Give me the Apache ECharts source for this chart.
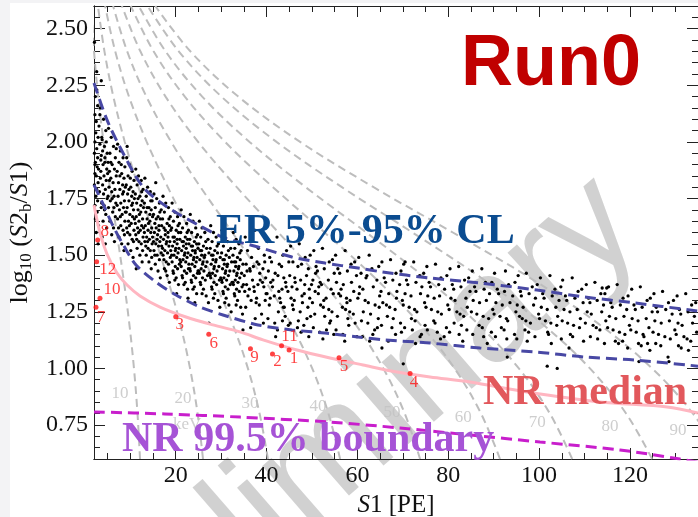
<!DOCTYPE html>
<html>
<head>
<meta charset="utf-8">
<script src="https://cdn.jsdelivr.net/npm/echarts@6/dist/echarts.min.js"></script>
<style>
html,body{margin:0;padding:0;background:#fff;}
#chart{width:698px;height:517px;}
</style>
</head>
<body>
<div id="chart"></div>
<script>
// ---- ER calibration events: [S1 (PE), log10(S2b/S1)] ----
const erEvents = [
[2.1,2.44],[2.6,2.31],[2.3,2.2],[2.8,2.16],[2.2,2.12],[2.5,2.09],[3.1,2.07],[2.4,2.04],[2.9,2.02],[2.2,2.0],[3.3,1.99],[2.6,1.97],[2.1,1.95],[2.8,1.93],[3.5,1.92],[2.3,1.91],[2.7,1.89],[3.0,1.88],[2.2,1.86],[2.5,1.85],[3.4,1.84],[2.9,1.82],[2.1,1.81],[2.6,1.79],[3.2,1.78],[2.4,1.76],[2.8,1.74],[2.2,1.72],[3.6,1.71],[2.7,1.69],[2.3,1.66],[3.0,1.63],[2.5,1.6],[2.9,1.55],[2.2,1.9],[3.7,2.02],[3.3,2.12],[2.6,2.23],[3.9,1.96],
[3.4,2.15],[4.1,2.1],[4.6,2.05],[3.8,2.01],[4.3,1.98],[4.9,1.95],[3.6,1.94],[4.4,1.91],[4.0,1.9],[4.8,1.88],[3.5,1.87],[4.2,1.85],[4.7,1.83],[3.9,1.81],[4.5,1.79],[4.1,1.77],[4.9,1.75],[3.7,1.73],[4.3,1.7],[4.6,1.68],[4.0,1.65],[4.8,1.62],[3.8,1.58],[4.4,1.93],[4.7,2.0],[5.0,1.86],[4.2,1.72],[3.6,2.27],[4.5,1.55],
[5.2,2.06],[5.8,2.02],[6.3,1.98],[5.5,1.95],[6.7,1.93],[5.1,1.91],[6.0,1.9],[6.5,1.88],[5.4,1.87],[6.9,1.85],[5.7,1.84],[6.2,1.82],[5.3,1.8],[6.6,1.79],[5.9,1.78],[6.4,1.76],[5.6,1.74],[6.8,1.73],[5.2,1.71],[6.1,1.69],[6.7,1.67],[5.5,1.65],[6.3,1.62],[5.9,1.59],[6.5,1.56],[5.4,1.83],[6.0,1.75],[6.9,1.97],[5.7,1.91],[6.4,1.71],[5.1,1.76],
[7.2,1.99],[7.8,1.96],[8.4,1.93],[7.5,1.91],[8.8,1.89],[7.1,1.87],[8.1,1.86],[8.6,1.84],[7.4,1.82],[8.9,1.8],[7.7,1.79],[8.3,1.77],[7.3,1.76],[8.7,1.74],[7.9,1.73],[8.5,1.71],[7.6,1.7],[8.2,1.68],[7.2,1.66],[8.8,1.65],[7.9,1.63],[8.4,1.61],[7.5,1.58],[8.1,1.55],[8.6,1.52],[7.7,1.85],[8.3,1.81],[7.1,1.72],[8.9,1.69],[7.4,1.62],[8.0,1.9],[8.5,1.78],[7.8,1.67],[8.7,1.59],
[9.2,1.93],[9.8,1.9],[10.4,1.87],[9.5,1.85],[10.8,1.83],[9.1,1.81],[10.1,1.8],[10.6,1.78],[9.4,1.77],[10.9,1.75],[9.7,1.74],[10.3,1.72],[9.3,1.71],[10.7,1.7],[9.9,1.68],[10.5,1.67],[9.6,1.65],[10.2,1.64],[9.2,1.62],[10.8,1.61],[9.9,1.59],[10.4,1.57],[9.5,1.55],[10.1,1.52],[10.6,1.49],[9.7,1.79],[10.3,1.76],[9.1,1.69],[10.9,1.66],[9.4,1.6],[10.0,1.84],[10.5,1.73],[9.8,1.63],[10.7,1.56],[9.3,1.98],
[11.2,1.88],[11.8,1.85],[12.4,1.83],[11.5,1.81],[12.8,1.79],[11.1,1.77],[12.1,1.76],[12.6,1.74],[11.4,1.73],[12.9,1.71],[11.7,1.7],[12.3,1.69],[11.3,1.67],[12.7,1.66],[11.9,1.65],[12.5,1.63],[11.6,1.62],[12.2,1.61],[11.2,1.59],[12.8,1.58],[11.9,1.56],[12.4,1.55],[11.5,1.53],[12.1,1.5],[12.6,1.47],[11.7,1.75],[12.3,1.72],[11.1,1.64],[12.9,1.62],[11.4,1.57],[12.0,1.68],[12.5,1.78],[11.8,1.6],[12.7,1.52],[11.3,1.44],
[13.2,1.84],[13.8,1.8],[14.4,1.78],[13.5,1.76],[14.8,1.74],[13.1,1.73],[14.1,1.71],[14.6,1.7],[13.4,1.69],[14.9,1.67],[13.7,1.66],[14.3,1.65],[13.3,1.63],[14.7,1.62],[13.9,1.61],[14.5,1.6],[13.6,1.58],[14.2,1.57],[13.2,1.56],[14.8,1.55],[13.9,1.53],[14.4,1.52],[13.5,1.5],[14.1,1.47],[14.6,1.44],[13.7,1.71],[14.3,1.68],[13.1,1.6],[14.9,1.58],[13.4,1.54],[14.0,1.64],[14.5,1.74],[13.8,1.56],[14.7,1.49],
[15.6,1.82],[15.2,1.77],[15.8,1.75],[16.4,1.73],[15.5,1.71],[16.8,1.7],[15.1,1.68],[16.1,1.67],[16.6,1.66],[15.4,1.64],[16.9,1.63],[15.7,1.62],[16.3,1.61],[15.3,1.6],[16.7,1.58],[15.9,1.57],[16.5,1.56],[15.6,1.55],[16.2,1.54],[15.2,1.52],[16.8,1.51],[15.9,1.5],[16.4,1.48],[15.5,1.46],[16.1,1.43],[16.6,1.4],[15.7,1.66],[16.3,1.63],[15.1,1.56],[16.9,1.54],[15.4,1.5],[16.0,1.59],[16.5,1.69],
[17.2,1.76],[17.8,1.73],[18.4,1.71],[17.5,1.69],[18.8,1.67],[17.1,1.66],[18.1,1.64],[18.6,1.63],[17.4,1.62],[18.9,1.61],[17.7,1.59],[18.3,1.58],[17.3,1.57],[18.7,1.56],[17.9,1.55],[18.5,1.54],[17.6,1.52],[18.2,1.51],[17.2,1.5],[18.8,1.49],[17.9,1.47],[18.4,1.46],[17.5,1.44],[18.1,1.41],[18.6,1.38],[17.7,1.61],[18.3,1.6],[17.1,1.53],[18.9,1.52],[17.4,1.48],[18.0,1.56],[18.5,1.66],[17.8,1.43],
[19.2,1.73],[19.8,1.69],[20.4,1.67],[19.5,1.65],[20.8,1.64],[19.1,1.62],[20.1,1.61],[20.6,1.6],[19.4,1.58],[20.9,1.57],[19.7,1.56],[20.3,1.55],[19.3,1.54],[20.7,1.53],[19.9,1.52],[20.5,1.51],[19.6,1.5],[20.2,1.49],[19.2,1.47],[20.8,1.46],[19.9,1.45],[20.4,1.44],[19.5,1.42],[20.1,1.4],[20.6,1.37],[19.7,1.58],[20.3,1.57],[19.1,1.5],[20.9,1.48],[19.4,1.43],[20.0,1.53],[20.5,1.63],[19.8,1.39],[20.2,1.33],
[21.2,1.7],[21.8,1.67],[22.4,1.64],[21.5,1.62],[22.8,1.61],[21.1,1.6],[22.1,1.58],[22.6,1.57],[21.4,1.56],[22.9,1.55],[21.7,1.54],[22.3,1.53],[21.3,1.52],[22.7,1.51],[21.9,1.5],[22.5,1.49],[21.6,1.48],[22.2,1.47],[21.2,1.45],[22.8,1.44],[21.9,1.43],[22.4,1.42],[21.5,1.4],[22.1,1.38],[22.6,1.35],[21.7,1.56],[22.3,1.55],[21.1,1.47],[22.9,1.46],[21.4,1.41],[22.0,1.51],[22.5,1.6],[21.8,1.37],[22.7,1.31],
[23.2,1.68],[23.8,1.65],[24.4,1.62],[23.5,1.6],[24.8,1.59],[23.1,1.57],[24.1,1.56],[24.6,1.55],[23.4,1.54],[24.9,1.53],[23.7,1.52],[24.3,1.51],[23.3,1.5],[24.7,1.49],[23.9,1.48],[24.5,1.47],[23.6,1.46],[24.2,1.45],[23.2,1.43],[24.8,1.42],[23.9,1.41],[24.4,1.4],[23.5,1.38],[24.1,1.36],[24.6,1.33],[23.7,1.54],[24.3,1.52],[23.1,1.44],[24.9,1.43],[23.4,1.39],[24.0,1.49],[24.5,1.58],[23.8,1.35],[24.2,1.29],
[25.2,1.65],[25.8,1.62],[26.4,1.6],[25.5,1.58],[27.1,1.57],[25.1,1.55],[26.1,1.54],[26.8,1.53],[25.4,1.52],[27.3,1.51],[25.7,1.5],[26.3,1.49],[25.3,1.48],[26.9,1.47],[25.9,1.46],[26.6,1.45],[25.6,1.44],[26.2,1.43],[25.2,1.42],[27.0,1.41],[25.9,1.4],[26.5,1.39],[25.5,1.37],[26.1,1.35],[26.7,1.32],[25.7,1.52],[26.4,1.5],[25.1,1.43],[27.4,1.42],[25.4,1.38],[26.0,1.47],[26.6,1.56],[25.8,1.33],[27.2,1.29],[27.3,1.2],
[27.7,1.63],[28.3,1.6],[28.9,1.58],[28.0,1.56],[29.4,1.55],[27.6,1.53],[28.6,1.52],[29.2,1.51],[27.9,1.5],[29.8,1.49],[28.2,1.48],[28.8,1.47],[27.8,1.46],[29.5,1.45],[28.4,1.44],[29.1,1.43],[28.1,1.42],[28.7,1.41],[27.7,1.4],[29.6,1.39],[28.4,1.38],[29.0,1.37],[28.0,1.35],[28.6,1.33],[29.3,1.3],[28.2,1.5],[28.9,1.48],[27.6,1.41],[29.9,1.4],[27.9,1.36],[28.5,1.45],[29.1,1.54],[28.3,1.31],[29.7,1.27],
[30.2,1.61],[30.8,1.58],[31.4,1.56],[30.5,1.54],[32.1,1.53],[30.1,1.51],[31.1,1.5],[31.8,1.49],[30.4,1.48],[32.3,1.47],[30.7,1.46],[31.3,1.45],[30.3,1.44],[31.9,1.43],[30.9,1.42],[31.6,1.41],[30.6,1.4],[31.2,1.39],[30.2,1.38],[32.0,1.37],[30.9,1.36],[31.5,1.35],[30.5,1.33],[31.1,1.31],[31.7,1.28],[30.7,1.48],[31.4,1.46],[30.1,1.39],[32.4,1.38],[30.4,1.34],[31.0,1.43],[31.6,1.52],[30.8,1.29],[32.2,1.25],
[32.7,1.6],[33.3,1.57],[33.9,1.55],[33.0,1.53],[34.4,1.52],[32.6,1.5],[33.6,1.49],[34.2,1.48],[32.9,1.47],[34.8,1.46],[33.2,1.45],[33.8,1.44],[32.8,1.43],[34.5,1.42],[33.4,1.41],[34.1,1.4],[33.1,1.39],[33.7,1.38],[32.7,1.37],[34.6,1.36],[33.4,1.35],[34.0,1.34],[33.0,1.32],[33.6,1.3],[34.3,1.27],[33.2,1.47],[33.9,1.45],[32.6,1.38],[34.9,1.37],[32.9,1.33],[33.5,1.42],[34.1,1.51],[33.3,1.28],[34.7,1.24],[34.8,1.17],
[35.3,1.58],[37.4,1.61],[38.2,1.53],[39.5,1.5],[35.8,1.52],[36.7,1.49],[37.9,1.47],[39.2,1.44],[35.5,1.46],[36.4,1.43],[37.1,1.45],[38.5,1.42],[39.8,1.4],[35.1,1.41],[36.9,1.39],[38.1,1.37],[39.4,1.36],[35.6,1.37],[36.2,1.35],[37.3,1.34],[39.1,1.38],[35.9,1.32],[36.6,1.3],[37.8,1.31],[38.4,1.28],[39.7,1.3],[35.4,1.27],[37.5,1.22],[38.9,1.24],[39.3,1.2],[36.3,1.44],[37.2,1.36],[38.3,1.46],[35.2,1.34],[39.9,1.33],[36.5,1.18],[38.6,1.39],[37.7,1.29],[39.6,1.47],[35.7,1.43],
[40.2,1.56],[42.3,1.58],[43.6,1.5],[44.4,1.52],[40.7,1.49],[41.1,1.47],[42.8,1.46],[44.9,1.47],[40.4,1.43],[41.9,1.42],[42.5,1.41],[43.8,1.4],[44.2,1.38],[40.9,1.38],[41.3,1.36],[43.4,1.35],[44.7,1.34],[40.1,1.33],[41.7,1.32],[42.9,1.31],[43.1,1.29],[40.6,1.28],[42.6,1.25],[43.9,1.27],[44.1,1.23],[40.3,1.22],[41.8,1.2],[42.4,1.17],[43.5,1.21],[44.8,1.19],[41.4,1.39],[42.7,1.34],[43.3,1.45],[40.8,1.31],[44.3,1.36],[42.0,1.14],[43.7,1.27],
[45.3,1.54],[47.2,1.55],[48.5,1.49],[49.6,1.5],[45.8,1.47],[46.9,1.45],[47.7,1.46],[49.2,1.44],[45.1,1.41],[46.2,1.4],[47.5,1.39],[48.8,1.41],[49.9,1.37],[45.6,1.36],[46.7,1.35],[48.3,1.33],[49.4,1.35],[45.4,1.31],[46.1,1.3],[47.9,1.29],[49.1,1.27],[45.9,1.26],[47.4,1.25],[48.9,1.22],[49.7,1.23],[45.2,1.2],[46.8,1.18],[47.6,1.16],[48.2,1.19],[49.3,1.14],[46.3,1.38],[47.8,1.32],[48.4,1.37],[45.7,1.28],[49.5,1.31],[47.0,1.21],
[50.4,1.52],[52.3,1.53],[53.8,1.47],[54.5,1.48],[50.9,1.45],[51.2,1.43],[52.7,1.44],[54.9,1.42],[50.2,1.39],[51.8,1.38],[52.1,1.37],[53.6,1.39],[54.2,1.35],[50.7,1.34],[51.4,1.33],[53.1,1.31],[54.7,1.33],[50.1,1.29],[51.9,1.28],[52.5,1.27],[54.4,1.25],[50.6,1.24],[52.8,1.23],[53.9,1.2],[54.1,1.21],[50.3,1.18],[51.7,1.16],[52.4,1.13],[53.2,1.17],[54.8,1.15],[51.5,1.36],[52.6,1.3],[53.7,1.26],[50.8,1.42],
[55.2,1.5],[57.3,1.52],[58.6,1.46],[59.4,1.47],[55.7,1.44],[56.1,1.42],[57.8,1.43],[59.8,1.41],[55.4,1.38],[56.9,1.37],[58.7,1.38],[59.2,1.34],[55.9,1.33],[56.3,1.32],[57.6,1.31],[58.4,1.3],[56.7,1.27],[57.4,1.26],[59.1,1.24],[55.6,1.23],[57.9,1.22],[58.1,1.19],[59.5,1.2],[55.3,1.17],[56.8,1.15],[57.2,1.12],[59.9,1.14],[56.4,1.35],[57.7,1.29],[58.3,1.25],
[60.3,1.49],[62.6,1.5],[63.2,1.44],[64.7,1.45],[60.8,1.42],[61.9,1.4],[62.1,1.41],[64.3,1.39],[60.5,1.36],[61.2,1.35],[63.5,1.36],[64.9,1.32],[60.1,1.31],[61.7,1.3],[62.4,1.29],[63.9,1.28],[61.3,1.25],[62.9,1.24],[64.6,1.22],[60.9,1.21],[62.3,1.2],[63.8,1.17],[64.4,1.18],[61.1,1.14],[62.7,1.12],[63.4,1.15],[60.4,1.33],[64.8,1.27],
[65.4,1.47],[67.3,1.48],[68.5,1.42],[69.6,1.43],[65.9,1.4],[66.2,1.38],[67.8,1.39],[69.3,1.37],[65.2,1.34],[66.9,1.33],[68.7,1.34],[69.9,1.3],[65.6,1.29],[66.4,1.28],[67.1,1.27],[68.3,1.26],[66.6,1.23],[67.9,1.22],[69.5,1.2],[65.3,1.19],[67.6,1.18],[68.4,1.15],[69.7,1.16],[66.8,1.12],[68.6,1.31],[65.4,1.09],
[70.2,1.46],[72.4,1.47],[73.7,1.41],[74.6,1.42],[70.8,1.39],[71.1,1.37],[72.9,1.38],[74.2,1.36],[70.5,1.33],[71.8,1.32],[73.9,1.33],[74.8,1.29],[70.1,1.28],[71.4,1.27],[72.6,1.26],[73.1,1.25],[71.9,1.22],[72.7,1.21],[74.9,1.19],[70.4,1.18],[72.1,1.17],[73.8,1.14],[74.1,1.15],[72.8,1.11],[70.5,1.47],[70.1,1.02],
[75.3,1.45],[77.2,1.46],[78.4,1.4],[79.7,1.41],[75.8,1.38],[76.1,1.36],[77.9,1.37],[79.2,1.35],[75.5,1.32],[76.9,1.31],[78.1,1.32],[79.9,1.28],[75.1,1.27],[76.3,1.26],[77.7,1.25],[78.5,1.24],[76.8,1.21],[77.1,1.2],[79.6,1.18],[75.4,1.17],[77.6,1.16],[78.3,1.13],[79.1,1.14],
[80.4,1.44],[82.3,1.45],[83.6,1.39],[84.5,1.4],[80.9,1.37],[81.2,1.35],[82.8,1.36],[84.8,1.34],[80.6,1.31],[81.5,1.3],[83.9,1.31],[84.2,1.27],[80.2,1.26],[81.9,1.25],[82.6,1.24],[83.4,1.23],[81.3,1.2],[82.9,1.19],[84.1,1.17],[80.3,1.16],[82.4,1.15],[83.2,1.12],
[85.3,1.43],[87.4,1.44],[88.2,1.38],[89.6,1.38],[85.8,1.36],[86.1,1.34],[87.9,1.35],[89.1,1.33],[85.5,1.3],[86.9,1.29],[88.4,1.3],[89.8,1.26],[85.1,1.25],[86.3,1.24],[87.7,1.23],[88.9,1.22],[86.8,1.19],[87.5,1.18],[89.5,1.16],[85.4,1.15],[87.8,1.14],[88.6,1.11],
[90.2,1.42],[92.6,1.43],[93.3,1.37],[94.7,1.38],[90.8,1.35],[91.1,1.33],[92.4,1.34],[94.2,1.32],[90.5,1.29],[91.9,1.28],[93.6,1.29],[94.9,1.25],[90.1,1.24],[91.4,1.23],[92.8,1.22],[93.1,1.21],[91.7,1.18],[92.3,1.17],[94.6,1.15],[90.4,1.14],[92.9,1.13],[93.0,1.05],
[95.4,1.41],[97.2,1.42],[98.5,1.36],[99.6,1.37],[95.9,1.34],[96.1,1.32],[97.8,1.33],[99.2,1.31],[95.2,1.28],[96.5,1.27],[98.8,1.28],[99.9,1.24],[95.7,1.23],[96.3,1.22],[97.1,1.21],[98.1,1.2],[96.9,1.17],[97.7,1.16],[99.1,1.14],[95.1,1.13],[97.4,1.12],
[100.3,1.4],[102.4,1.41],[103.5,1.35],[104.8,1.36],[100.8,1.33],[101.1,1.31],[102.9,1.32],[104.4,1.3],[100.5,1.27],[101.8,1.26],[103.7,1.27],[104.1,1.23],[100.1,1.22],[101.4,1.21],[102.6,1.2],[103.9,1.19],[101.9,1.16],[102.1,1.15],[104.9,1.13],[101.8,1.01],[104.0,1.0],[102.7,1.11],
[105.2,1.39],[107.3,1.4],[108.6,1.34],[109.4,1.35],[105.8,1.32],[106.1,1.3],[107.9,1.31],[109.7,1.29],[105.5,1.26],[106.8,1.25],[108.4,1.26],[109.1,1.22],[105.1,1.21],[106.3,1.2],[107.6,1.19],[108.9,1.18],[106.9,1.15],[107.4,1.14],[109.8,1.12],[106.6,1.09],
[110.4,1.37],[112.3,1.38],[113.6,1.33],[114.5,1.33],[113.9,1.355],[114.9,1.355],[110.9,1.31],[111.2,1.29],[112.8,1.3],[114.2,1.28],[110.6,1.25],[111.5,1.24],[113.8,1.25],[114.7,1.21],[110.2,1.2],[111.9,1.19],[112.6,1.18],[113.4,1.17],[111.3,1.14],[112.9,1.13],[114.4,1.11],
[115.3,1.36],[117.2,1.37],[118.5,1.31],[119.6,1.32],[115.8,1.29],[116.1,1.27],[117.9,1.28],[119.3,1.26],[115.5,1.23],[116.9,1.22],[118.7,1.23],[119.9,1.19],[115.1,1.18],[116.3,1.17],[117.7,1.16],[118.9,1.15],[116.8,1.12],[117.5,1.11],[118.4,1.12],[119.5,1.09],
[120.4,1.35],[122.3,1.36],[123.8,1.3],[124.5,1.31],[120.9,1.28],[121.2,1.26],[122.7,1.27],[124.9,1.25],[120.5,1.22],[121.8,1.21],[123.6,1.22],[124.2,1.18],[120.2,1.17],[121.4,1.16],[122.9,1.15],[123.1,1.14],[121.9,1.11],[122.5,1.1],[123.9,1.11],[124.4,1.08],[122.0,1.03],
[125.3,1.33],[127.2,1.34],[128.5,1.29],[129.6,1.3],[125.8,1.27],[126.1,1.25],[127.9,1.26],[129.3,1.24],[125.5,1.21],[126.9,1.2],[128.7,1.21],[129.9,1.17],[125.1,1.16],[126.3,1.15],[127.7,1.14],[128.9,1.13],[125.7,1.11],[126.8,1.1],[128.4,1.05],[128.6,1.03],
[130.4,1.32],[132.3,1.33],[133.6,1.28],[134.5,1.29],[130.9,1.26],[131.2,1.24],[132.8,1.25],[134.2,1.23],[130.6,1.2],[131.5,1.19],[133.8,1.2],[134.7,1.16],[130.2,1.15],[131.9,1.14],[132.6,1.13],[133.4,1.12],[130.7,1.1],[131.3,1.09],[132.9,1.08]
];

// ---- numbered candidate events ----
const candidateIds = ['8','12','10','7','3','6','9','2','11','1','5','4'];
const candidateS1  = [2.81, 2.59, 3.32, 2.44, 20.0, 27.27, 36.45, 41.3, 43.3, 44.96, 55.95, 71.6];
const candidateLog = [1.567, 1.471, 1.310, 1.270, 1.228, 1.151, 1.087, 1.064, 1.100, 1.081, 1.047, 0.978];

// ---- ER band (5% / 95% quantiles) ----
const erUpper = [[2,2.26],[4.86,2.097],[8.39,1.951],[12.79,1.801],[18.08,1.713],[25.34,1.629],[30.85,1.575],[38.1,1.536],[45.6,1.492],[52.87,1.465],[60.14,1.443],[65.42,1.426],[76.0,1.399],[87.0,1.377],[99.55,1.346],[110.1,1.315],[121.1,1.289],[135,1.253]];
const erLower = [[2,1.81],[4.2,1.717],[6.18,1.629],[8.6,1.54],[11.25,1.457],[15.65,1.381],[20.06,1.324],[25.34,1.271],[30.4,1.236],[38.1,1.192],[45.6,1.17],[52.87,1.156],[60.14,1.139],[66.08,1.126],[76.0,1.112],[87.0,1.09],[99.55,1.072],[110.1,1.05],[121.1,1.037],[135,1.01]];

// ---- NR median and NR 99.5% acceptance boundary ----
const nrMedian = [[2,1.721],[3.32,1.598],[4.86,1.505],[7.07,1.421],[9.27,1.368],[12.13,1.32],[16.53,1.271],[22.26,1.227],[28.2,1.192],[34.15,1.161],[39.2,1.126],[46.7,1.081],[53.97,1.046],[61.24,1.015],[68.73,0.984],[76.0,0.962],[84.8,0.94],[97.35,0.896],[113.4,0.852],[128.2,0.83],[135,0.803]];
const nrBoundary = [[2,0.808],[17.6,0.799],[34.15,0.785],[53.97,0.763],[69.4,0.737],[84.8,0.706],[100.2,0.675],[117.8,0.64],[131.0,0.6],[139.9,0.569]];

// ---- constant-energy contours (keV) ----
const contourEnergies = [10,20,30,40,50,60,70,80,90];
const contourLogRatio = [0.6,0.8,1.0,1.2,1.4,1.6,1.8,2.0,2.2,2.4,2.6];
const contourS1 = [
  [12.13,11.58,10.80,9.76,8.47,7.00,5.50,4.10,2.92,2.01,1.34],
  [26.0,24.82,23.15,20.93,18.16,15.02,11.78,8.78,6.26,4.30,2.87],
  [40.3,38.47,35.89,32.44,28.15,23.27,18.26,13.61,9.70,6.67,4.45],
  [56.2,53.64,50.05,45.24,39.26,32.46,25.46,18.98,13.53,9.30,6.21],
  [73.8,70.44,65.72,59.40,51.55,42.62,33.44,24.93,17.76,12.21,8.15],
  [91.4,87.24,81.39,73.57,63.84,52.78,41.41,30.88,22.0,15.12,10.10],
  [107.3,102.4,95.55,86.37,74.95,61.97,48.62,36.25,25.83,17.75,11.86],
  [124.9,119.2,111.2,100.5,87.24,72.13,56.59,42.19,30.06,20.66,13.80],
  [140.3,133.9,124.9,112.9,98.0,81.02,63.57,47.39,33.77,23.21,15.50]
];
const contourLabelS1  = [7.73, 21.6, 36.35, 51.3, 67.6, 83.3, 99.6, 115.6, 130.6];
const contourLabelLog = [0.887, 0.865, 0.843, 0.830, 0.803, 0.785, 0.763, 0.745, 0.724];
const unitLabelAt = [22.5, 0.750];

// ---- axis ranges and ticks ----
const xRange = [2, 135];
const yRange = [0.6, 2.6];
const xMajorTicks = [20, 40, 60, 80, 100, 120];
const yMajorTicks = [0.75, 1.00, 1.25, 1.50, 1.75, 2.00, 2.25, 2.50];

const xMinorTicks = [];
for (let v = 5; v <= 135; v += 5) if (v % 20 !== 0) xMinorTicks.push(v);
const yMinorTicks = [];
for (let k = 12; k <= 52; k++) { if (k % 5 !== 0) yMinorTicks.push(+(k * 0.05).toFixed(2)); }

// label nudges for the numbered events (pixels)
const idLabelOffset = {
  '8':[7,-8], '12':[11,8], '10':[12,-9], '7':[5,10], '3':[4,8], '6':[5,9],
  '9':[4,9], '2':[5,8], '11':[8,-9], '1':[5,8], '5':[5,9], '4':[4,9]
};

const SERIF = '"Liberation Serif", "Times New Roman", serif';
const AXIS_COLOR = '#222';

function xAxisDef(position, ticks, len, withLabels) {
  const a = {
    type: 'value', position: position, min: xRange[0], max: xRange[1],
    axisLine: { show: true, onZero: false, lineStyle: { color: AXIS_COLOR, width: 1 } },
    axisTick: { show: true, inside: true, length: len, customValues: ticks, lineStyle: { color: AXIS_COLOR, width: 1 } },
    axisLabel: { show: false },
    splitLine: { show: false }
  };
  if (withLabels) {
    a.axisLabel = { show: true, customValues: ticks, margin: 5, fontFamily: SERIF, fontSize: 24, color: '#111' };
    a.name = '{i|S}{n|1 [PE]}';
    a.nameLocation = 'middle';
    a.nameGap = 27;
    a.nameTextStyle = {
      fontFamily: SERIF, fontSize: 25, color: '#111',
      rich: {
        i: { fontFamily: SERIF, fontStyle: 'italic', fontSize: 25, color: '#111' },
        n: { fontFamily: SERIF, fontSize: 25, color: '#111' }
      }
    };
  }
  return a;
}

function yAxisDef(position, ticks, len, withLabels) {
  const a = {
    type: 'value', position: position, min: yRange[0], max: yRange[1],
    axisLine: { show: true, onZero: false, lineStyle: { color: AXIS_COLOR, width: 1 } },
    axisTick: { show: true, inside: true, length: len, customValues: ticks, lineStyle: { color: AXIS_COLOR, width: 1 } },
    axisLabel: { show: false },
    splitLine: { show: false }
  };
  if (withLabels) {
    a.axisLabel = { show: true, customValues: ticks, margin: 6, fontFamily: SERIF, fontSize: 24, color: '#111',
      formatter: v => v.toFixed(2) };
    a.name = '{n|log}{s|10}{n| (}{i|S}{n|2}{s|b}{n|/}{i|S}{n|1)}';
    a.nameLocation = 'middle';
    a.nameGap = 55;
    a.nameTextStyle = {
      fontFamily: SERIF, fontSize: 26, color: '#111',
      rich: {
        n: { fontFamily: SERIF, fontSize: 26, color: '#111', lineHeight: 30 },
        i: { fontFamily: SERIF, fontStyle: 'italic', fontSize: 26, color: '#111', lineHeight: 30 },
        s: { fontFamily: SERIF, fontSize: 17, color: '#111', verticalAlign: 'bottom', lineHeight: 14 }
      }
    };
  }
  return a;
}

const series = [];

// energy contours
contourEnergies.forEach((e, i) => {
  series.push({
    type: 'line', name: e + ' keV', xAxisIndex: 0, yAxisIndex: 0,
    data: contourS1[i].map((s, j) => [s, contourLogRatio[j]]),
    showSymbol: false, smooth: 0.35, silent: true, z: 1,
    lineStyle: { color: '#bdbdbd', width: 2, type: [8, 5] }
  });
});

// contour energy labels
series.push({
  type: 'scatter', xAxisIndex: 0, yAxisIndex: 0, silent: true, z: 1,
  symbolSize: 1, itemStyle: { color: 'transparent' },
  data: contourEnergies.map((e, i) => ({ value: [contourLabelS1[i], contourLabelLog[i]], name: String(e) }))
    .concat([{ value: unitLabelAt, name: 'keV' }]),
  label: { show: true, position: 'inside', formatter: '{b}', fontFamily: SERIF, fontSize: 17, color: '#c2c2c2' }
});

// ER events
series.push({
  type: 'scatter', name: 'ER', xAxisIndex: 0, yAxisIndex: 0, z: 2, silent: true,
  symbolSize: 3.3, itemStyle: { color: '#000', opacity: 1 },
  data: erEvents
});

// ER band
[erUpper, erLower].forEach(d => series.push({
  type: 'line', xAxisIndex: 0, yAxisIndex: 0, data: d, showSymbol: false, smooth: 0.3, silent: true, z: 3,
  lineStyle: { color: '#4848a4', width: 3, type: [11, 6] }
}));

// NR median
series.push({
  type: 'line', xAxisIndex: 0, yAxisIndex: 0, data: nrMedian, showSymbol: false, smooth: 0.3, silent: true, z: 3,
  lineStyle: { color: '#ffb6c1', width: 3 }
});

// NR 99.5% boundary
series.push({
  type: 'line', xAxisIndex: 0, yAxisIndex: 0, data: nrBoundary, showSymbol: false, smooth: 0.3, silent: true, z: 3,
  lineStyle: { color: '#c81ecc', width: 3, type: [11, 6] }
});

// numbered events
series.push({
  type: 'scatter', xAxisIndex: 0, yAxisIndex: 0, z: 4, silent: true,
  symbolSize: 5, itemStyle: { color: '#ff1414' },
  data: candidateIds.map((id, i) => ({
    value: [candidateS1[i], candidateLog[i]], name: id,
    label: { offset: idLabelOffset[id] }
  })),
  label: { show: true, position: 'inside', formatter: '{b}', fontFamily: SERIF, fontSize: 17, color: '#ff1414' }
});

const option = {
  backgroundColor: '#ffffff',
  animation: false,
  grid: { left: 94, top: 6, right: 0, bottom: 58, containLabel: false, outerBoundsMode: 'none' },
  xAxis: [
    xAxisDef('bottom', xMajorTicks, 11, true),
    xAxisDef('bottom', xMinorTicks, 6, false),
    xAxisDef('top', xMajorTicks, 11, false),
    xAxisDef('top', xMinorTicks, 6, false)
  ],
  yAxis: [
    yAxisDef('left', yMajorTicks, 11, true),
    yAxisDef('left', yMinorTicks, 6, false),
    yAxisDef('right', yMajorTicks, 11, false),
    yAxisDef('right', yMinorTicks, 6, false)
  ],
  series: series,
  graphic: [
    { type: 'rect', z: -1, silent: true, shape: { x: 0, y: 0, width: 10, height: 517 }, style: { fill: '#f3f3f5' } },
    { type: 'rect', z: -1, silent: true, shape: { x: 0, y: 0, width: 698, height: 3 }, style: { fill: '#f3f3f5' } },
    { type: 'text', z: 0, silent: true, x: 336, y: 452, rotation: 41 * Math.PI / 180,
      style: { text: 'Preliminary', font: '150px "Liberation Sans", Arial, sans-serif', fill: '#cccccc', opacity: 0.9,
        align: 'center', verticalAlign: 'middle', textAlign: 'center', textVerticalAlign: 'middle' } },
    { type: 'text', z: 100, silent: true, x: 461, y: 65,
      style: { text: 'Run0', font: 'bold 72px "Liberation Sans", Arial, sans-serif', fill: '#c00000',
        align: 'left', verticalAlign: 'middle', textAlign: 'left', textVerticalAlign: 'middle' } },
    { type: 'text', z: 100, silent: true, x: 216, y: 232,
      style: { text: 'ER 5%-95% CL', font: 'bold 42px ' + SERIF, fill: '#0b4c90',
        align: 'left', verticalAlign: 'middle', textAlign: 'left', textVerticalAlign: 'middle' } },
    { type: 'text', z: 100, silent: true, x: 483, y: 393,
      style: { text: 'NR median', font: 'bold 42px ' + SERIF, fill: '#e2585c',
        align: 'left', verticalAlign: 'middle', textAlign: 'left', textVerticalAlign: 'middle' } },
    { type: 'text', z: 100, silent: true, x: 122, y: 440,
      style: { text: 'NR 99.5% boundary', font: 'bold 42px ' + SERIF, fill: '#a653d6',
        align: 'left', verticalAlign: 'middle', textAlign: 'left', textVerticalAlign: 'middle' } }
  ]
};

const chart = echarts.init(document.getElementById('chart'), null, { renderer: 'canvas' });
chart.setOption(option);
</script>
</body>
</html>
